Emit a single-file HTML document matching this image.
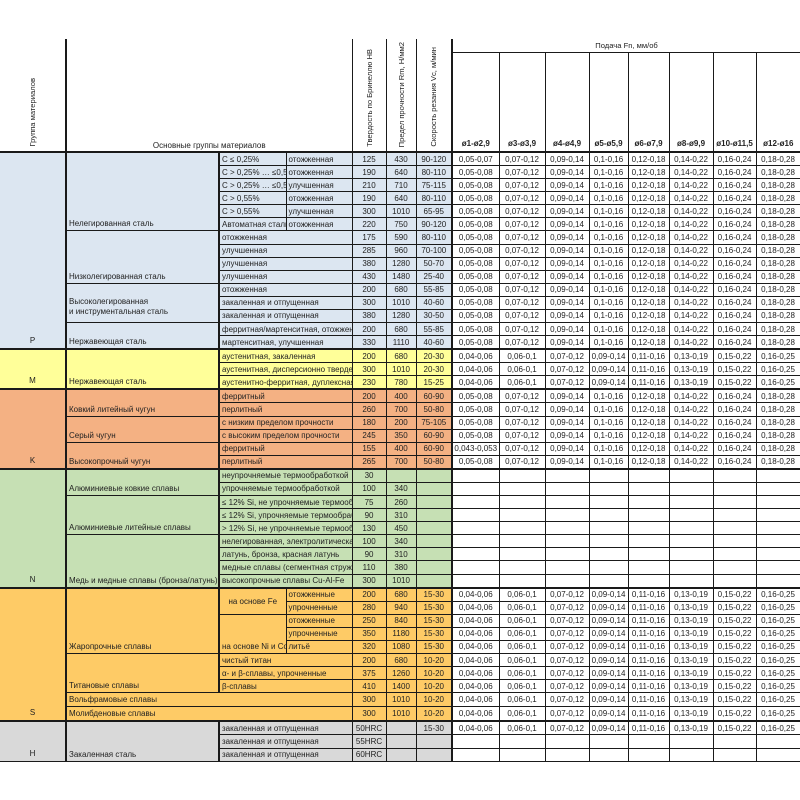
<!DOCTYPE html>
<html><head><meta charset="utf-8">
<style>
html,body{margin:0;padding:0;background:#fff;width:800px;height:800px;overflow:hidden}
table{position:absolute;left:0;top:39px;border-collapse:collapse;table-layout:fixed;width:800px}
td{border:1px solid #1a1a1a;padding:0 2px;font:8px "Liberation Sans",Arial,sans-serif;color:#222;height:12.08px;line-height:11px;overflow:hidden;white-space:nowrap;text-align:left;vertical-align:middle}
td.c{text-align:center}
td.g{text-align:center;vertical-align:bottom;padding-bottom:2px;border-left:none;border-right:2px solid #1a1a1a}
td.m{vertical-align:bottom;padding-bottom:1px;border-left:2px solid #1a1a1a}
td.s{border-left:2px solid #1a1a1a}
td.v{border-right:2px solid #1a1a1a}
td.w{background:#fff!important;text-align:center;padding:0}
tr.p td{background:#dce6f1} tr.mm td{background:#ffff99} tr.k td{background:#f4b183}
tr.n td{background:#c6e0b4} tr.sx td{background:#fecb66} tr.h td{background:#d9d9d9}
tr.top td{border-top:2px solid #1a1a1a}
th{font:7.6px "Liberation Sans",Arial,sans-serif;font-weight:normal;color:#222;border:1px solid #1a1a1a;padding:0;vertical-align:bottom;background:#fff;overflow:hidden;white-space:nowrap}
.rot{writing-mode:vertical-rl;transform:rotate(180deg);display:inline-block;padding-top:2px}
th.b{font-weight:bold;padding-bottom:3px;font-size:8px}
</style></head><body>
<table>
<colgroup><col style="width:66px"><col style="width:153px"><col style="width:67px"><col style="width:66px"><col style="width:34px"><col style="width:30px"><col style="width:36px"><col style="width:47px"><col style="width:46px"><col style="width:44px"><col style="width:39px"><col style="width:41px"><col style="width:44px"><col style="width:43px"><col style="width:44px"></colgroup>
<tr style="height:13px">
<th rowspan="2" style="border-top:none;border-left:none;border-right:2px solid #1a1a1a;border-bottom:2px solid #1a1a1a;text-align:center"><span class="rot">Группа материалов</span></th>
<th rowspan="2" colspan="3" style="border-top:none;border-bottom:2px solid #1a1a1a;text-align:center;padding-bottom:1px;font-size:8px">Основные группы материалов</th>
<th rowspan="2" style="border-top:none;border-bottom:2px solid #1a1a1a;text-align:center"><span class="rot">Твердость по Бринеллю HB</span></th>
<th rowspan="2" style="border-top:none;border-bottom:2px solid #1a1a1a;text-align:center"><span class="rot">Предел прочности Rm, Н/мм2</span></th>
<th rowspan="2" style="border-top:none;border-bottom:2px solid #1a1a1a;border-right:2px solid #1a1a1a;text-align:center"><span class="rot">Скорость резания Vc, м/мин</span></th>
<th colspan="8" style="border-top:none;border-right:none;text-align:center;vertical-align:middle;height:12px">Подача Fn, мм/об</th>
</tr>
<tr style="height:100px">
<th class="b" style="border-bottom:2px solid #1a1a1a">ø1-ø2,9</th><th class="b" style="border-bottom:2px solid #1a1a1a">ø3-ø3,9</th><th class="b" style="border-bottom:2px solid #1a1a1a">ø4-ø4,9</th><th class="b" style="border-bottom:2px solid #1a1a1a">ø5-ø5,9</th><th class="b" style="border-bottom:2px solid #1a1a1a">ø6-ø7,9</th><th class="b" style="border-bottom:2px solid #1a1a1a">ø8-ø9,9</th><th class="b" style="border-bottom:2px solid #1a1a1a">ø10-ø11,5</th><th class="b" style="border-bottom:2px solid #1a1a1a;border-right:none">ø12-ø16</th>
</tr>

<tr class="p"><td class="g" rowspan="15">P</td><td class="m" rowspan="6">Нелегированная сталь</td><td class="s">C ≤ 0,25%</td><td>отожженная</td><td class="c">125</td><td class="c">430</td><td class="c v">90-120</td><td class="w">0,05-0,07</td><td class="w">0,07-0,12</td><td class="w">0,09-0,14</td><td class="w">0,1-0,16</td><td class="w">0,12-0,18</td><td class="w">0,14-0,22</td><td class="w">0,16-0,24</td><td class="w">0,18-0,28</td></tr>
<tr class="p"><td class="s">C &gt; 0,25% … ≤0,55%</td><td>отожженная</td><td class="c">190</td><td class="c">640</td><td class="c v">80-110</td><td class="w">0,05-0,08</td><td class="w">0,07-0,12</td><td class="w">0,09-0,14</td><td class="w">0,1-0,16</td><td class="w">0,12-0,18</td><td class="w">0,14-0,22</td><td class="w">0,16-0,24</td><td class="w">0,18-0,28</td></tr>
<tr class="p"><td class="s">C &gt; 0,25% … ≤0,55%</td><td>улучшенная</td><td class="c">210</td><td class="c">710</td><td class="c v">75-115</td><td class="w">0,05-0,08</td><td class="w">0,07-0,12</td><td class="w">0,09-0,14</td><td class="w">0,1-0,16</td><td class="w">0,12-0,18</td><td class="w">0,14-0,22</td><td class="w">0,16-0,24</td><td class="w">0,18-0,28</td></tr>
<tr class="p"><td class="s">C &gt; 0,55%</td><td>отожженная</td><td class="c">190</td><td class="c">640</td><td class="c v">80-110</td><td class="w">0,05-0,08</td><td class="w">0,07-0,12</td><td class="w">0,09-0,14</td><td class="w">0,1-0,16</td><td class="w">0,12-0,18</td><td class="w">0,14-0,22</td><td class="w">0,16-0,24</td><td class="w">0,18-0,28</td></tr>
<tr class="p"><td class="s">C &gt; 0,55%</td><td>улучшенная</td><td class="c">300</td><td class="c">1010</td><td class="c v">65-95</td><td class="w">0,05-0,08</td><td class="w">0,07-0,12</td><td class="w">0,09-0,14</td><td class="w">0,1-0,16</td><td class="w">0,12-0,18</td><td class="w">0,14-0,22</td><td class="w">0,16-0,24</td><td class="w">0,18-0,28</td></tr>
<tr class="p"><td class="s">Автоматная сталь</td><td>отожженная</td><td class="c">220</td><td class="c">750</td><td class="c v">90-120</td><td class="w">0,05-0,08</td><td class="w">0,07-0,12</td><td class="w">0,09-0,14</td><td class="w">0,1-0,16</td><td class="w">0,12-0,18</td><td class="w">0,14-0,22</td><td class="w">0,16-0,24</td><td class="w">0,18-0,28</td></tr>
<tr class="p"><td class="m" rowspan="4">Низколегированная сталь</td><td class="s" colspan="2">отожженная</td><td class="c">175</td><td class="c">590</td><td class="c v">80-110</td><td class="w">0,05-0,08</td><td class="w">0,07-0,12</td><td class="w">0,09-0,14</td><td class="w">0,1-0,16</td><td class="w">0,12-0,18</td><td class="w">0,14-0,22</td><td class="w">0,16-0,24</td><td class="w">0,18-0,28</td></tr>
<tr class="p"><td class="s" colspan="2">улучшенная</td><td class="c">285</td><td class="c">960</td><td class="c v">70-100</td><td class="w">0,05-0,08</td><td class="w">0,07-0,12</td><td class="w">0,09-0,14</td><td class="w">0,1-0,16</td><td class="w">0,12-0,18</td><td class="w">0,14-0,22</td><td class="w">0,16-0,24</td><td class="w">0,18-0,28</td></tr>
<tr class="p"><td class="s" colspan="2">улучшенная</td><td class="c">380</td><td class="c">1280</td><td class="c v">50-70</td><td class="w">0,05-0,08</td><td class="w">0,07-0,12</td><td class="w">0,09-0,14</td><td class="w">0,1-0,16</td><td class="w">0,12-0,18</td><td class="w">0,14-0,22</td><td class="w">0,16-0,24</td><td class="w">0,18-0,28</td></tr>
<tr class="p"><td class="s" colspan="2">улучшенная</td><td class="c">430</td><td class="c">1480</td><td class="c v">25-40</td><td class="w">0,05-0,08</td><td class="w">0,07-0,12</td><td class="w">0,09-0,14</td><td class="w">0,1-0,16</td><td class="w">0,12-0,18</td><td class="w">0,14-0,22</td><td class="w">0,16-0,24</td><td class="w">0,18-0,28</td></tr>
<tr class="p"><td class="m" rowspan="3" style="vertical-align:middle;padding-top:10px;line-height:10px">Высоколегированная<br>и инструментальная сталь</td><td class="s" colspan="2">отожженная</td><td class="c">200</td><td class="c">680</td><td class="c v">55-85</td><td class="w">0,05-0,08</td><td class="w">0,07-0,12</td><td class="w">0,09-0,14</td><td class="w">0,1-0,16</td><td class="w">0,12-0,18</td><td class="w">0,14-0,22</td><td class="w">0,16-0,24</td><td class="w">0,18-0,28</td></tr>
<tr class="p"><td class="s" colspan="2">закаленная и отпущенная</td><td class="c">300</td><td class="c">1010</td><td class="c v">40-60</td><td class="w">0,05-0,08</td><td class="w">0,07-0,12</td><td class="w">0,09-0,14</td><td class="w">0,1-0,16</td><td class="w">0,12-0,18</td><td class="w">0,14-0,22</td><td class="w">0,16-0,24</td><td class="w">0,18-0,28</td></tr>
<tr class="p"><td class="s" colspan="2">закаленная и отпущенная</td><td class="c">380</td><td class="c">1280</td><td class="c v">30-50</td><td class="w">0,05-0,08</td><td class="w">0,07-0,12</td><td class="w">0,09-0,14</td><td class="w">0,1-0,16</td><td class="w">0,12-0,18</td><td class="w">0,14-0,22</td><td class="w">0,16-0,24</td><td class="w">0,18-0,28</td></tr>
<tr class="p"><td class="m" rowspan="2">Нержавеющая сталь</td><td class="s" colspan="2">ферритная/мартенситная, отожженная</td><td class="c">200</td><td class="c">680</td><td class="c v">55-85</td><td class="w">0,05-0,08</td><td class="w">0,07-0,12</td><td class="w">0,09-0,14</td><td class="w">0,1-0,16</td><td class="w">0,12-0,18</td><td class="w">0,14-0,22</td><td class="w">0,16-0,24</td><td class="w">0,18-0,28</td></tr>
<tr class="p"><td class="s" colspan="2">мартенситная, улучшенная</td><td class="c">330</td><td class="c">1110</td><td class="c v">40-60</td><td class="w">0,05-0,08</td><td class="w">0,07-0,12</td><td class="w">0,09-0,14</td><td class="w">0,1-0,16</td><td class="w">0,12-0,18</td><td class="w">0,14-0,22</td><td class="w">0,16-0,24</td><td class="w">0,18-0,28</td></tr>

<tr class="mm top"><td class="g" rowspan="3">M</td><td class="m" rowspan="3">Нержавеющая сталь</td><td class="s" colspan="2">аустенитная, закаленная</td><td class="c">200</td><td class="c">680</td><td class="c v">20-30</td><td class="w">0,04-0,06</td><td class="w">0,06-0,1</td><td class="w">0,07-0,12</td><td class="w">0,09-0,14</td><td class="w">0,11-0,16</td><td class="w">0,13-0,19</td><td class="w">0,15-0,22</td><td class="w">0,16-0,25</td></tr>
<tr class="mm"><td class="s" colspan="2">аустенитная, дисперсионно твердеющая</td><td class="c">300</td><td class="c">1010</td><td class="c v">20-30</td><td class="w">0,04-0,06</td><td class="w">0,06-0,1</td><td class="w">0,07-0,12</td><td class="w">0,09-0,14</td><td class="w">0,11-0,16</td><td class="w">0,13-0,19</td><td class="w">0,15-0,22</td><td class="w">0,16-0,25</td></tr>
<tr class="mm"><td class="s" colspan="2">аустенитно-ферритная, дуплексная</td><td class="c">230</td><td class="c">780</td><td class="c v">15-25</td><td class="w">0,04-0,06</td><td class="w">0,06-0,1</td><td class="w">0,07-0,12</td><td class="w">0,09-0,14</td><td class="w">0,11-0,16</td><td class="w">0,13-0,19</td><td class="w">0,15-0,22</td><td class="w">0,16-0,25</td></tr>

<tr class="k top"><td class="g" rowspan="6">K</td><td class="m" rowspan="2">Ковкий литейный чугун</td><td class="s" colspan="2">ферритный</td><td class="c">200</td><td class="c">400</td><td class="c v">60-90</td><td class="w">0,05-0,08</td><td class="w">0,07-0,12</td><td class="w">0,09-0,14</td><td class="w">0,1-0,16</td><td class="w">0,12-0,18</td><td class="w">0,14-0,22</td><td class="w">0,16-0,24</td><td class="w">0,18-0,28</td></tr>
<tr class="k"><td class="s" colspan="2">перлитный</td><td class="c">260</td><td class="c">700</td><td class="c v">50-80</td><td class="w">0,05-0,08</td><td class="w">0,07-0,12</td><td class="w">0,09-0,14</td><td class="w">0,1-0,16</td><td class="w">0,12-0,18</td><td class="w">0,14-0,22</td><td class="w">0,16-0,24</td><td class="w">0,18-0,28</td></tr>
<tr class="k"><td class="m" rowspan="2">Серый чугун</td><td class="s" colspan="2">с низким пределом прочности</td><td class="c">180</td><td class="c">200</td><td class="c v">75-105</td><td class="w">0,05-0,08</td><td class="w">0,07-0,12</td><td class="w">0,09-0,14</td><td class="w">0,1-0,16</td><td class="w">0,12-0,18</td><td class="w">0,14-0,22</td><td class="w">0,16-0,24</td><td class="w">0,18-0,28</td></tr>
<tr class="k"><td class="s" colspan="2">с высоким пределом прочности</td><td class="c">245</td><td class="c">350</td><td class="c v">60-90</td><td class="w">0,05-0,08</td><td class="w">0,07-0,12</td><td class="w">0,09-0,14</td><td class="w">0,1-0,16</td><td class="w">0,12-0,18</td><td class="w">0,14-0,22</td><td class="w">0,16-0,24</td><td class="w">0,18-0,28</td></tr>
<tr class="k"><td class="m" rowspan="2">Высокопрочный чугун</td><td class="s" colspan="2">ферритный</td><td class="c">155</td><td class="c">400</td><td class="c v">60-90</td><td class="w">0,043-0,053</td><td class="w">0,07-0,12</td><td class="w">0,09-0,14</td><td class="w">0,1-0,16</td><td class="w">0,12-0,18</td><td class="w">0,14-0,22</td><td class="w">0,16-0,24</td><td class="w">0,18-0,28</td></tr>
<tr class="k"><td class="s" colspan="2">перлитный</td><td class="c">265</td><td class="c">700</td><td class="c v">50-80</td><td class="w">0,05-0,08</td><td class="w">0,07-0,12</td><td class="w">0,09-0,14</td><td class="w">0,1-0,16</td><td class="w">0,12-0,18</td><td class="w">0,14-0,22</td><td class="w">0,16-0,24</td><td class="w">0,18-0,28</td></tr>

<tr class="n top"><td class="g" rowspan="9">N</td><td class="m" rowspan="2">Алюминиевые ковкие сплавы</td><td class="s" colspan="2">неупрочняемые термообработкой</td><td class="c">30</td><td class="c"></td><td class="c v"></td><td class="w"></td><td class="w"></td><td class="w"></td><td class="w"></td><td class="w"></td><td class="w"></td><td class="w"></td><td class="w"></td></tr>
<tr class="n"><td class="s" colspan="2">упрочняемые термообработкой</td><td class="c">100</td><td class="c">340</td><td class="c v"></td><td class="w"></td><td class="w"></td><td class="w"></td><td class="w"></td><td class="w"></td><td class="w"></td><td class="w"></td><td class="w"></td></tr>
<tr class="n"><td class="m" rowspan="3">Алюминиевые литейные сплавы</td><td class="s" colspan="2">≤ 12% Si, не упрочняемые термообработкой</td><td class="c">75</td><td class="c">260</td><td class="c v"></td><td class="w"></td><td class="w"></td><td class="w"></td><td class="w"></td><td class="w"></td><td class="w"></td><td class="w"></td><td class="w"></td></tr>
<tr class="n"><td class="s" colspan="2">≤ 12% Si, упрочняемые термообработкой</td><td class="c">90</td><td class="c">310</td><td class="c v"></td><td class="w"></td><td class="w"></td><td class="w"></td><td class="w"></td><td class="w"></td><td class="w"></td><td class="w"></td><td class="w"></td></tr>
<tr class="n"><td class="s" colspan="2">&gt; 12% Si, не упрочняемые термообработкой</td><td class="c">130</td><td class="c">450</td><td class="c v"></td><td class="w"></td><td class="w"></td><td class="w"></td><td class="w"></td><td class="w"></td><td class="w"></td><td class="w"></td><td class="w"></td></tr>
<tr class="n"><td class="m" rowspan="4">Медь и медные сплавы (бронза/латунь)</td><td class="s" colspan="2">нелегированная, электролитическая медь</td><td class="c">100</td><td class="c">340</td><td class="c v"></td><td class="w"></td><td class="w"></td><td class="w"></td><td class="w"></td><td class="w"></td><td class="w"></td><td class="w"></td><td class="w"></td></tr>
<tr class="n"><td class="s" colspan="2">латунь, бронза, красная латунь</td><td class="c">90</td><td class="c">310</td><td class="c v"></td><td class="w"></td><td class="w"></td><td class="w"></td><td class="w"></td><td class="w"></td><td class="w"></td><td class="w"></td><td class="w"></td></tr>
<tr class="n"><td class="s" colspan="2">медные сплавы (сегментная стружка)</td><td class="c">110</td><td class="c">380</td><td class="c v"></td><td class="w"></td><td class="w"></td><td class="w"></td><td class="w"></td><td class="w"></td><td class="w"></td><td class="w"></td><td class="w"></td></tr>
<tr class="n"><td class="s" colspan="2">высокопрочные сплавы Cu-Al-Fe</td><td class="c">300</td><td class="c">1010</td><td class="c v"></td><td class="w"></td><td class="w"></td><td class="w"></td><td class="w"></td><td class="w"></td><td class="w"></td><td class="w"></td><td class="w"></td></tr>

<tr class="sx top"><td class="g" rowspan="10">S</td><td class="m" rowspan="5">Жаропрочные сплавы</td><td class="s c" rowspan="2">на основе Fe</td><td>отожженные</td><td class="c">200</td><td class="c">680</td><td class="c v">15-30</td><td class="w">0,04-0,06</td><td class="w">0,06-0,1</td><td class="w">0,07-0,12</td><td class="w">0,09-0,14</td><td class="w">0,11-0,16</td><td class="w">0,13-0,19</td><td class="w">0,15-0,22</td><td class="w">0,16-0,25</td></tr>
<tr class="sx"><td>упрочненные</td><td class="c">280</td><td class="c">940</td><td class="c v">15-30</td><td class="w">0,04-0,06</td><td class="w">0,06-0,1</td><td class="w">0,07-0,12</td><td class="w">0,09-0,14</td><td class="w">0,11-0,16</td><td class="w">0,13-0,19</td><td class="w">0,15-0,22</td><td class="w">0,16-0,25</td></tr>
<tr class="sx"><td class="s" rowspan="3" style="vertical-align:bottom;padding-bottom:1px">на основе Ni и Co</td><td>отожженные</td><td class="c">250</td><td class="c">840</td><td class="c v">15-30</td><td class="w">0,04-0,06</td><td class="w">0,06-0,1</td><td class="w">0,07-0,12</td><td class="w">0,09-0,14</td><td class="w">0,11-0,16</td><td class="w">0,13-0,19</td><td class="w">0,15-0,22</td><td class="w">0,16-0,25</td></tr>
<tr class="sx"><td>упрочненные</td><td class="c">350</td><td class="c">1180</td><td class="c v">15-30</td><td class="w">0,04-0,06</td><td class="w">0,06-0,1</td><td class="w">0,07-0,12</td><td class="w">0,09-0,14</td><td class="w">0,11-0,16</td><td class="w">0,13-0,19</td><td class="w">0,15-0,22</td><td class="w">0,16-0,25</td></tr>
<tr class="sx"><td>литьё</td><td class="c">320</td><td class="c">1080</td><td class="c v">15-30</td><td class="w">0,04-0,06</td><td class="w">0,06-0,1</td><td class="w">0,07-0,12</td><td class="w">0,09-0,14</td><td class="w">0,11-0,16</td><td class="w">0,13-0,19</td><td class="w">0,15-0,22</td><td class="w">0,16-0,25</td></tr>
<tr class="sx"><td class="m" rowspan="3">Титановые сплавы</td><td class="s" colspan="2">чистый титан</td><td class="c">200</td><td class="c">680</td><td class="c v">10-20</td><td class="w">0,04-0,06</td><td class="w">0,06-0,1</td><td class="w">0,07-0,12</td><td class="w">0,09-0,14</td><td class="w">0,11-0,16</td><td class="w">0,13-0,19</td><td class="w">0,15-0,22</td><td class="w">0,16-0,25</td></tr>
<tr class="sx"><td class="s" colspan="2">α- и β-сплавы, упрочненные</td><td class="c">375</td><td class="c">1260</td><td class="c v">10-20</td><td class="w">0,04-0,06</td><td class="w">0,06-0,1</td><td class="w">0,07-0,12</td><td class="w">0,09-0,14</td><td class="w">0,11-0,16</td><td class="w">0,13-0,19</td><td class="w">0,15-0,22</td><td class="w">0,16-0,25</td></tr>
<tr class="sx"><td class="s" colspan="2">β-сплавы</td><td class="c">410</td><td class="c">1400</td><td class="c v">10-20</td><td class="w">0,04-0,06</td><td class="w">0,06-0,1</td><td class="w">0,07-0,12</td><td class="w">0,09-0,14</td><td class="w">0,11-0,16</td><td class="w">0,13-0,19</td><td class="w">0,15-0,22</td><td class="w">0,16-0,25</td></tr>
<tr class="sx"><td class="m" colspan="3">Вольфрамовые сплавы</td><td class="c">300</td><td class="c">1010</td><td class="c v">10-20</td><td class="w">0,04-0,06</td><td class="w">0,06-0,1</td><td class="w">0,07-0,12</td><td class="w">0,09-0,14</td><td class="w">0,11-0,16</td><td class="w">0,13-0,19</td><td class="w">0,15-0,22</td><td class="w">0,16-0,25</td></tr>
<tr class="sx"><td class="m" colspan="3">Молибденовые сплавы</td><td class="c">300</td><td class="c">1010</td><td class="c v">10-20</td><td class="w">0,04-0,06</td><td class="w">0,06-0,1</td><td class="w">0,07-0,12</td><td class="w">0,09-0,14</td><td class="w">0,11-0,16</td><td class="w">0,13-0,19</td><td class="w">0,15-0,22</td><td class="w">0,16-0,25</td></tr>

<tr class="h top"><td class="g" rowspan="3">H</td><td class="m" rowspan="3">Закаленная сталь</td><td class="s" colspan="2">закаленная и отпущенная</td><td class="c">50HRC</td><td class="c"></td><td class="c v">15-30</td><td class="w">0,04-0,06</td><td class="w">0,06-0,1</td><td class="w">0,07-0,12</td><td class="w">0,09-0,14</td><td class="w">0,11-0,16</td><td class="w">0,13-0,19</td><td class="w">0,15-0,22</td><td class="w">0,16-0,25</td></tr>
<tr class="h"><td class="s" colspan="2">закаленная и отпущенная</td><td class="c">55HRC</td><td class="c"></td><td class="c v"></td><td class="w"></td><td class="w"></td><td class="w"></td><td class="w"></td><td class="w"></td><td class="w"></td><td class="w"></td><td class="w"></td></tr>
<tr class="h"><td class="s" colspan="2">закаленная и отпущенная</td><td class="c">60HRC</td><td class="c"></td><td class="c v"></td><td class="w"></td><td class="w"></td><td class="w"></td><td class="w"></td><td class="w"></td><td class="w"></td><td class="w"></td><td class="w"></td></tr>
</table>
</body></html>
